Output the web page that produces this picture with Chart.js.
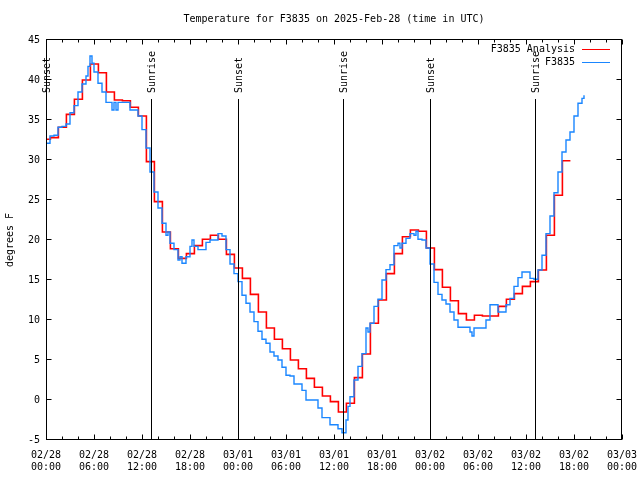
<!DOCTYPE html>
<html>
<head>
<meta charset="utf-8">
<script src="https://cdn.jsdelivr.net/npm/chart.js@4/dist/chart.umd.min.js"></script>
<style>
  html, body { margin: 0; padding: 0; background: #fff; }
</style>
</head>
<body>
<canvas id="c" width="640" height="480"></canvas>
<script>
// hours since 2025-02-28 00:00 UTC
const xTickLabels = [
  ["02/28", "00:00"], ["02/28", "06:00"], ["02/28", "12:00"], ["02/28", "18:00"],
  ["03/01", "00:00"], ["03/01", "06:00"], ["03/01", "12:00"], ["03/01", "18:00"],
  ["03/02", "00:00"], ["03/02", "06:00"], ["03/02", "12:00"], ["03/02", "18:00"],
  ["03/03", "00:00"]
];

// hourly analysis, each value holds from (hour - 0.45) on
const analysisTemps = [
  32.6, 32.8, 34.1, 35.7, 37.6, 40.0, 42.0, 40.9, 38.5, 37.5, 37.4, 36.6,
  35.5, 29.8, 24.8, 21.0, 18.9, 17.7, 18.3, 19.3, 20.1, 20.6, 20.1, 18.2,
  16.5, 15.2, 13.2, 11.0, 9.0, 7.6, 6.4, 5.0, 3.9, 2.7, 1.6, 0.5,
  -0.2, -1.5, -0.4, 2.8, 5.75, 9.6, 12.5, 15.8, 18.3, 20.4, 21.25, 21.1,
  19.0, 16.3, 14.1, 12.4, 10.8, 10.0, 10.6, 10.5, 10.5, 11.7, 12.6, 13.3,
  14.2, 14.8, 16.25, 20.6, 25.6, 29.9
];

// station observations
const obsHours = [
  0, 0.5, 1, 1.5, 2, 2.5, 3, 3.5, 4, 4.5, 5, 5.25, 5.5, 5.75, 6, 6.5, 7, 7.5,
  8, 8.25, 8.5, 8.75, 9, 9.5, 10, 10.5, 11, 11.5, 12, 12.5, 13, 13.5, 14, 14.5,
  15, 15.25, 15.5, 16, 16.5, 16.75, 17, 17.5, 18, 18.25, 18.5, 19, 19.5, 20,
  20.5, 21, 21.5, 22, 22.5, 23, 23.5, 24, 24.5, 25, 25.5, 26, 26.5, 27, 27.5,
  28, 28.5, 29, 29.5, 30, 30.5, 31, 31.5, 32, 32.5, 33, 33.5, 34, 34.5, 35,
  35.5, 36, 36.5, 37, 37.5, 37.75, 38, 38.5, 39, 39.5, 40, 40.25, 40.5, 41,
  41.5, 42, 42.5, 43, 43.5, 44, 44.25, 44.5, 45, 45.5, 46, 46.25, 46.5, 47,
  47.5, 48, 48.5, 49, 49.5, 50, 50.5, 51, 51.5, 52, 52.5, 53, 53.25, 53.5, 54,
  54.5, 55, 55.5, 56, 56.5, 57, 57.5, 58, 58.5, 59, 59.5, 60, 60.5, 61, 61.5,
  62, 62.5, 63, 63.5, 64, 64.5, 65, 65.5, 66, 66.5, 67, 67.25
];
const obsTemps = [
  32.1, 33.0, 33.1, 34.1, 34.2, 34.5, 35.9, 36.8, 38.5, 39.5, 40.5, 41.7, 43.0, 42.1, 41.0, 39.6, 38.5, 37.2,
  37.2, 36.25, 37.2, 36.25, 37.2, 37.2, 37.2, 36.25, 36.25, 35.5, 33.8, 31.5, 28.5, 26.0, 24.0, 22.1,
  20.6, 21.0, 19.6, 18.8, 17.5, 17.9, 17.1, 17.9, 19.2, 20.0, 19.2, 18.8, 18.8, 19.7,
  20.0, 20.0, 20.8, 20.5, 18.8, 17.0, 15.8, 14.8, 13.1, 12.1, 11.0, 9.8, 8.6, 7.6, 7.1,
  6.0, 5.5, 5.0, 4.1, 3.1, 3.0, 2.0, 2.0, 1.2, 0.0, 0.0, 0.0, -1.0, -2.2, -2.2,
  -3.1, -3.1, -3.6, -4.1, -2.5, -0.8, 0.4, 2.5, 4.2, 5.8, 9.0, 8.5, 9.6, 11.7,
  12.6, 15.0, 16.3, 16.9, 19.3, 19.6, 19.0, 19.6, 20.2, 20.8, 20.6, 21.1, 20.1, 20.0,
  19.0, 17.0, 14.7, 13.2, 12.5, 12.0, 11.0, 10.0, 9.1, 9.1, 9.1, 8.5, 8.0, 9.0, 9.0,
  9.0, 10.0, 11.9, 11.9, 11.0, 11.0, 11.9, 12.7, 14.2, 15.3, 16.0, 16.0, 15.2, 15.1, 16.25,
  18.1, 20.8, 23.0, 25.9, 28.5, 31.0, 32.5, 33.5, 35.5, 37.1, 37.7, 38.1
];

const sunHours = [0, 13.1, 24, 37.1, 48, 61.1];
const sunLabels = ["Sunset", "Sunrise", "Sunset", "Sunrise", "Sunset", "Sunrise"];

const MONO = '"DejaVu Sans Mono", "Liberation Mono", monospace';

const analysisPts = analysisTemps.map((t, i) => ({ x: i - 0.45, y: t }));
analysisPts.push({ x: analysisTemps.length - 0.45, y: analysisTemps[analysisTemps.length - 1] });
const obsPts = obsHours.map((h, i) => ({ x: h, y: obsTemps[i] }));

const gnuplotLook = {
  id: "gnuplotLook",
  afterDatasetsDraw(chart) {
    const { ctx, chartArea: a, scales: { x, y } } = chart;
    ctx.save();
    ctx.strokeStyle = "#000";
    ctx.fillStyle = "#000";
    ctx.lineWidth = 1;
    ctx.font = "10px " + MONO;

    // sunrise / sunset markers
    sunHours.forEach((h, i) => {
      const px = Math.round(x.getPixelForValue(h)) + 0.5;
      ctx.beginPath();
      ctx.moveTo(px, 99);
      ctx.lineTo(px, a.bottom);
      ctx.stroke();
      ctx.save();
      ctx.translate(px + 1, 93);
      ctx.rotate(-Math.PI / 2);
      ctx.textAlign = "left";
      ctx.textBaseline = "middle";
      ctx.fillText(sunLabels[i], 0, 0);
      ctx.restore();
    });

    // frame
    const L = Math.round(a.left) + 0.5, R = Math.round(a.right) - 0.5;
    const T = Math.round(a.top) - 0.5, B = Math.round(a.bottom) - 0.5;
    ctx.strokeRect(L, T, R - L, B - T);

    // inward ticks
    ctx.beginPath();
    for (let v = -5; v <= 45; v += 5) {
      const py = Math.round(y.getPixelForValue(v)) - 0.5;
      ctx.moveTo(L, py); ctx.lineTo(L + 5, py);
      ctx.moveTo(R, py); ctx.lineTo(R - 5, py);
    }
    for (let h = 0; h <= 72; h += 2) {
      const px = Math.round(x.getPixelForValue(h)) + 0.5;
      const len = h % 6 === 0 ? 5 : 3;
      ctx.moveTo(px, B); ctx.lineTo(px, B - len);
      ctx.moveTo(px, T); ctx.lineTo(px, T + len);
    }
    ctx.stroke();

    // title
    ctx.textAlign = "center";
    ctx.textBaseline = "middle";
    ctx.fillText("Temperature for F3835 on 2025-Feb-28 (time in UTC)", (a.left + a.right) / 2, 19);

    // key
    const rows = [["F3835 Analysis", "#ff0000", 49], ["F3835", "#1a86ff", 62]];
    ctx.textAlign = "right";
    rows.forEach(([label, color, ry]) => {
      ctx.fillStyle = "#000";
      ctx.fillText(label, 575, ry);
      ctx.strokeStyle = color;
      ctx.beginPath();
      ctx.moveTo(582, ry + 0.5);
      ctx.lineTo(610, ry + 0.5);
      ctx.stroke();
    });
    ctx.restore();
  }
};

new Chart(document.getElementById("c"), {
  type: "line",
  data: {
    datasets: [
      {
        label: "F3835 Analysis",
        data: analysisPts,
        borderColor: "#ff0000",
        borderWidth: 1.6,
        stepped: true,
        pointRadius: 0,
        order: 1
      },
      {
        label: "F3835",
        data: obsPts,
        borderColor: "#1a86ff",
        borderWidth: 1.4,
        stepped: true,
        pointRadius: 0,
        order: 0
      }
    ]
  },
  options: {
    responsive: false,
    devicePixelRatio: 1,
    animation: false,
    layout: { padding: { top: 40, right: 18, left: 0, bottom: 0 } },
    plugins: {
      legend: { display: false },
      tooltip: { enabled: false }
    },
    scales: {
      x: {
        type: "linear",
        min: 0,
        max: 72,
        grid: { display: false, drawTicks: false },
        border: { display: false },
        afterFit: (s) => { s.height = 40; s.paddingLeft = 0; s.paddingRight = 0; },
        afterBuildTicks: (s) => { s.ticks = xTickLabels.map((_, i) => ({ value: i * 6 })); },
        ticks: {
          autoSkip: false,
          maxRotation: 0,
          padding: 9,
          color: "#000",
          font: { family: MONO, size: 10 },
          callback: (v, i) => xTickLabels[i]
        }
      },
      y: {
        min: -5,
        max: 45,
        grid: { display: false, drawTicks: false },
        border: { display: false },
        afterFit: (s) => { s.width = 46; s.paddingTop = 0; s.paddingBottom = 0; },
        ticks: {
          stepSize: 5,
          padding: 6,
          color: "#000",
          font: { family: MONO, size: 10 }
        },
        title: {
          display: true,
          text: "degrees F",
          color: "#000",
          font: { family: MONO, size: 10 },
          padding: { top: 4, bottom: 0 }
        }
      }
    }
  },
  plugins: [gnuplotLook]
});
</script>
</body>
</html>
